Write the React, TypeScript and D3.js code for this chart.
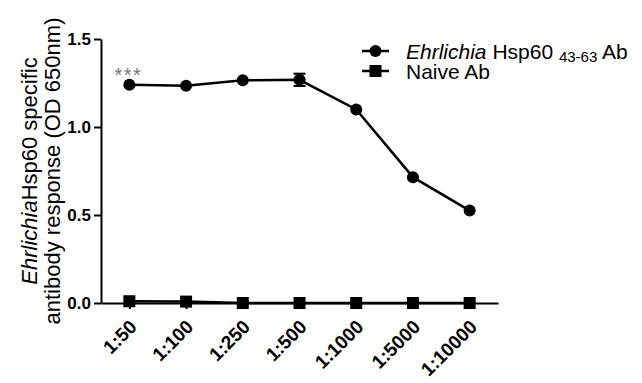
import React, { useEffect, useRef } from "react";
import * as d3 from "d3";

const dilutions = ["1:50", "1:100", "1:250", "1:500", "1:1000", "1:5000", "1:10000"];
const hspValues = [1.24, 1.235, 1.265, 1.268, 1.1, 0.715, 0.525];
const hspErrors = [0, 0, 0, 0.035, 0, 0, 0];
const naiveValues = [0.01, 0.008, 0, 0, 0, 0, 0];
const yTicks = [0, 0.5, 1.0, 1.5];

const App = () => {
  const ref = useRef<SVGSVGElement>(null);

  useEffect(() => {
    const svg = d3.select(ref.current);
    svg.selectAll("*").remove();
    const font = "'Liberation Sans', Arial, sans-serif";

    const x = d3.scalePoint<string>().domain(dilutions).range([101, 498]).padding(0.5);
    const y = d3.scaleLinear().domain([0, 1.5]).range([303, 39]);

    // y axis
    const yAxis = svg
      .append("g")
      .attr("transform", "translate(101,0)")
      .call(d3.axisLeft(y).tickValues(yTicks).tickFormat(d3.format(".1f")).tickSize(7).tickSizeOuter(0));
    yAxis.select(".domain").attr("stroke", "#000").attr("stroke-width", 2);
    yAxis.selectAll(".tick line").attr("stroke", "#000").attr("stroke-width", 2);
    yAxis
      .selectAll(".tick text")
      .attr("font-family", font)
      .attr("font-size", 17)
      .attr("font-weight", "bold")
      .attr("fill", "#000")
      .attr("x", -10);

    // x axis
    const xAxis = svg
      .append("g")
      .attr("transform", "translate(0,303)")
      .call(d3.axisBottom(x).tickSize(6).tickSizeOuter(0));
    xAxis.select(".domain").attr("stroke", "#000").attr("stroke-width", 2);
    xAxis.selectAll(".tick line").attr("stroke", "#000").attr("stroke-width", 2);
    xAxis
      .selectAll(".tick text")
      .attr("font-family", font)
      .attr("font-size", 19)
      .attr("font-weight", "bold")
      .attr("fill", "#000")
      .attr("text-anchor", "end")
      .attr("dy", null)
      .attr("y", 0)
      .attr("transform", "translate(8,25) rotate(-45)");

    const line = d3
      .line<number>()
      .x((d, i) => x(dilutions[i]) as number)
      .y((d) => y(d));

    // naive series
    svg
      .append("path")
      .datum(naiveValues)
      .attr("d", line)
      .attr("fill", "none")
      .attr("stroke", "#000")
      .attr("stroke-width", 2.5);
    svg
      .selectAll(".sq")
      .data(naiveValues)
      .join("rect")
      .attr("class", "sq")
      .attr("x", (d, i) => (x(dilutions[i]) as number) - 6)
      .attr("y", (d) => y(d) - 6)
      .attr("width", 12)
      .attr("height", 12)
      .attr("fill", "#000");

    // hsp series
    svg
      .append("path")
      .datum(hspValues)
      .attr("d", line)
      .attr("fill", "none")
      .attr("stroke", "#000")
      .attr("stroke-width", 2.5);

    hspValues.forEach((v, i) => {
      const e = hspErrors[i];
      if (!e) return;
      const cx = x(dilutions[i]) as number;
      const g = svg.append("g").attr("stroke", "#000").attr("stroke-width", 2);
      g.append("line").attr("x1", cx).attr("x2", cx).attr("y1", y(v - e)).attr("y2", y(v + e));
      g.append("line").attr("x1", cx - 6).attr("x2", cx + 6).attr("y1", y(v - e)).attr("y2", y(v - e));
      g.append("line").attr("x1", cx - 6).attr("x2", cx + 6).attr("y1", y(v + e)).attr("y2", y(v + e));
    });

    svg
      .selectAll(".dot")
      .data(hspValues)
      .join("circle")
      .attr("class", "dot")
      .attr("cx", (d, i) => x(dilutions[i]) as number)
      .attr("cy", (d) => y(d))
      .attr("r", 6)
      .attr("fill", "#000");

    // significance stars
    svg
      .append("text")
      .attr("x", (x(dilutions[0]) as number) - 1)
      .attr("y", y(hspValues[0]) - 3)
      .attr("text-anchor", "middle")
      .attr("font-family", font)
      .attr("font-size", 20)
      .attr("letter-spacing", 1.5)
      .attr("fill", "#777")
      .text("***");

    // y title
    const yt = svg
      .append("text")
      .attr("transform", "translate(37,171) rotate(-90)")
      .attr("text-anchor", "middle")
      .attr("font-family", font)
      .attr("font-size", 22)
      .attr("fill", "#000");
    yt.append("tspan").attr("font-style", "italic").text("Ehrlichia");
    yt.append("tspan").text("Hsp60 specific");
    svg
      .append("text")
      .attr("transform", "translate(60,171) rotate(-90)")
      .attr("text-anchor", "middle")
      .attr("font-family", font)
      .attr("font-size", 22)
      .attr("fill", "#000")
      .text("antibody response (OD 650nm)");

    // legend
    const lg = svg.append("g");
    [51, 71].forEach((ly, i) => {
      lg.append("line")
        .attr("x1", 362)
        .attr("x2", 389)
        .attr("y1", ly)
        .attr("y2", ly)
        .attr("stroke", "#000")
        .attr("stroke-width", 2.5);
      if (i === 0) lg.append("circle").attr("cx", 375.5).attr("cy", ly).attr("r", 6).attr("fill", "#000");
      else lg.append("rect").attr("x", 369.5).attr("y", ly - 6).attr("width", 12).attr("height", 12).attr("fill", "#000");
    });
    const l1 = lg
      .append("text")
      .attr("x", 406)
      .attr("y", 58.5)
      .attr("font-family", font)
      .attr("font-size", 21)
      .attr("fill", "#000");
    l1.append("tspan").attr("font-style", "italic").text("Ehrlichia");
    l1.append("tspan").text(" Hsp60 ");
    l1.append("tspan").attr("font-size", 15).attr("dy", 3.5).text("43-63");
    l1.append("tspan").attr("dy", -3.5).text(" Ab");
    lg.append("text")
      .attr("x", 406)
      .attr("y", 79)
      .attr("font-family", font)
      .attr("font-size", 21)
      .attr("fill", "#000")
      .text("Naive Ab");
  }, []);

  return (
    <svg
      ref={ref}
      width={642}
      height={383}
      style={{ position: "absolute", left: 0, top: 0, background: "#fff" }}
    />
  );
};

export default App;
